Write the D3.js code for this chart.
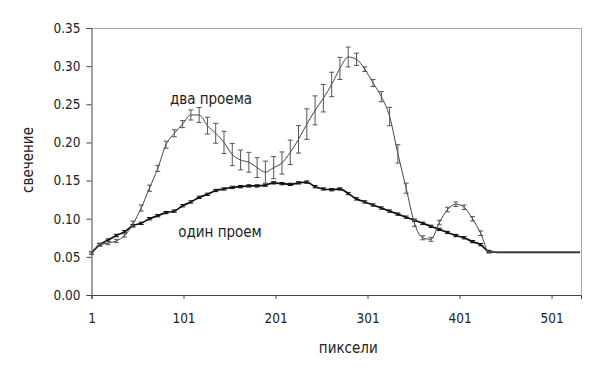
<!DOCTYPE html>
<html><head><meta charset="utf-8">
<script src="https://cdn.jsdelivr.net/npm/d3@7/dist/d3.min.js"></script>
<style>
body{margin:0;background:#fff;}
text{font-family:"DejaVu Sans Condensed","DejaVu Sans",sans-serif;fill:#222;}
</style></head>
<body><svg id="c" width="600" height="369"></svg>
<script>
const pixels = [1,10,19,28,37,46,55,64,73,82,91,100,109,118,127,136,145,154,163,172,181,190,199,208,217,226,235,244,253,262,271,280,289,298,307,316,325,334,343,352,361,370,379,388,397,406,415,424,433,442,451,460,469,478,487,496,505,514,523,532];
const twoOpenings = [0.055,0.066,0.068,0.071,0.078,0.093,0.114,0.140,0.166,0.197,0.212,0.224,0.236,0.236,0.222,0.212,0.200,0.184,0.177,0.174,0.167,0.161,0.167,0.173,0.187,0.204,0.224,0.242,0.258,0.276,0.297,0.312,0.309,0.296,0.278,0.260,0.234,0.185,0.140,0.094,0.075,0.073,0.095,0.112,0.119,0.115,0.100,0.081,0.056,0.056,0.056,0.056,0.056,0.056,0.056,0.056,0.056,0.056,0.056,0.056];
const twoErr = [0.002,0.002,0.002,0.002,0.002,0.004,0.004,0.004,0.004,0.0046,0.0046,0.0046,0.0066,0.0098,0.011,0.013,0.0145,0.0145,0.013,0.013,0.013,0.0145,0.0145,0.0145,0.016,0.018,0.020,0.019,0.018,0.016,0.0145,0.013,0.008,0.003,0.0046,0.0066,0.012,0.012,0.0066,0.004,0.0026,0.0026,0.003,0.003,0.003,0.003,0.003,0.003,0.001,0,0,0,0,0,0,0,0,0,0,0];
const oneOpening = [0.055,0.066,0.072,0.078,0.083,0.091,0.094,0.100,0.104,0.108,0.110,0.117,0.122,0.128,0.132,0.137,0.139,0.141,0.142,0.143,0.143,0.144,0.147,0.146,0.145,0.147,0.148,0.142,0.139,0.138,0.139,0.133,0.126,0.122,0.118,0.114,0.110,0.106,0.102,0.098,0.094,0.090,0.086,0.082,0.078,0.075,0.070,0.066,0.057,0.056,0.056,0.056,0.056,0.056,0.056,0.056,0.056,0.056,0.056,0.056];
const oneErr = [0.0015,0.0015,0.0015,0.0015,0.0015,0.0015,0.0015,0.0015,0.0015,0.0015,0.0015,0.0015,0.0015,0.0015,0.0015,0.0015,0.0015,0.0015,0.0015,0.0015,0.0015,0.0015,0.0015,0.0015,0.0015,0.0015,0.0015,0.0015,0.0015,0.0015,0.0015,0.0015,0.0015,0.0015,0.0015,0.0015,0.0015,0.0015,0.0015,0.0015,0.0015,0.0015,0.0015,0.0015,0.0015,0.0015,0.0015,0.0015,0.0015,0,0,0,0,0,0,0,0,0,0,0];
const xTicks = [1,101,201,301,401,501];
const yTicks = [0,0.05,0.10,0.15,0.20,0.25,0.30,0.35];
const xTitle = "пиксели", yTitle = "свечение";
const labelTwo = "два проема", labelOne = "один проем";

const svg = d3.select("#c");
const L=91.5, R=581, T=28, B=295;
const x = d3.scaleLinear().domain([1,533]).range([L,R]);
const y = d3.scaleLinear().domain([0,0.35]).range([B,T]);

svg.append("line").attr("x1",L).attr("x2",R).attr("y1",T+0.5).attr("y2",T+0.5).attr("stroke","#aaa");
svg.append("line").attr("x1",R+0.5).attr("x2",R+0.5).attr("y1",T).attr("y2",B).attr("stroke","#aaa");

const yAxis = svg.append("g").attr("transform",`translate(${L},0)`)
  .call(d3.axisLeft(y).tickValues(yTicks).tickFormat(d3.format(".2f")).tickSize(5).tickPadding(6));
const xAxis = svg.append("g").attr("transform",`translate(0,${B})`)
  .call(d3.axisBottom(x).tickValues(xTicks).tickFormat(d3.format("d")).tickSize(4).tickPadding(14));
[yAxis,xAxis].forEach(a=>{
  a.selectAll("path,line").attr("stroke","#444");
  a.selectAll("text").attr("font-size",13.5).attr("fill","#222")
   .style("font-family",'"DejaVu Sans Condensed","DejaVu Sans",sans-serif');
});

const line = d3.line().x((d,i)=>x(pixels[i])).y(d=>y(d)).curve(d3.curveMonotoneX);

function errBars(vals, errs, color, cap){
  const g = svg.append("g").attr("stroke",color).attr("stroke-width",1);
  vals.forEach((v,i)=>{
    const e = errs[i]; if(!e) return;
    const cx = x(pixels[i]);
    g.append("line").attr("x1",cx).attr("x2",cx).attr("y1",y(v-e)).attr("y2",y(v+e));
    g.append("line").attr("x1",cx-cap).attr("x2",cx+cap).attr("y1",y(v-e)).attr("y2",y(v-e));
    g.append("line").attr("x1",cx-cap).attr("x2",cx+cap).attr("y1",y(v+e)).attr("y2",y(v+e));
  });
}

svg.append("path").datum(oneOpening).attr("d",line).attr("fill","none").attr("stroke","#111").attr("stroke-width",1.7);
errBars(oneOpening, oneErr, "#111", 2.5);
svg.append("path").datum(twoOpenings).attr("d",line).attr("fill","none").attr("stroke","#444").attr("stroke-width",1);
errBars(twoOpenings, twoErr, "#555", 2.5);

svg.append("text").attr("x",211).attr("y",104).attr("text-anchor","middle").attr("font-size",15).text(labelTwo);
svg.append("text").attr("x",220).attr("y",237).attr("text-anchor","middle").attr("font-size",15).text(labelOne);
svg.append("text").attr("x",(L+R)/2+12).attr("y",353).attr("text-anchor","middle").attr("font-size",15).text(xTitle);
svg.append("text").attr("transform","translate(33,160) rotate(-90)").attr("text-anchor","middle").attr("font-size",15).text(yTitle);
</script></body></html>
